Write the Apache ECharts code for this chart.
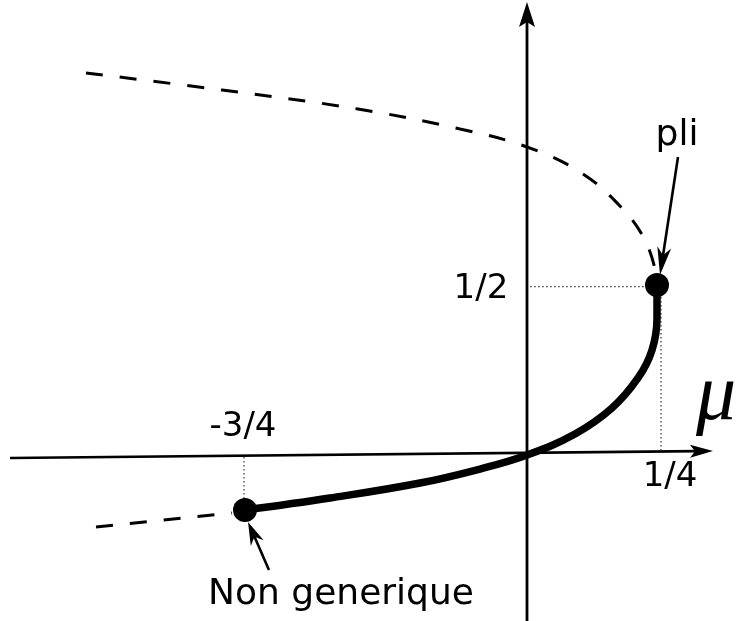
<!DOCTYPE html>
<html>
<head>
<meta charset="utf-8">
<script src="https://cdn.jsdelivr.net/npm/echarts@6/dist/echarts.min.js"></script>
<style>
  html, body { margin: 0; padding: 0; background: #fff; }
  #chart { width: 738px; height: 621px; }
</style>
</head>
<body>
<div id="chart"></div>
<script>
// Schematic fold (saddle-node) diagram in the (mu, x) plane.

// Stable branch (solid), from the non-generic point up to the fold
const stableBranch = [
  [-0.5423, -0.1618], [-0.3788, -0.1265], [-0.2058, -0.0824], [-0.0904, -0.0412],
  [0, 0], [0.0923, 0.0618], [0.1635, 0.1382], [0.2135, 0.2265],
  [0.2404, 0.3088], [0.2500, 0.4029], [0.2500, 0.5000]
];

// Unstable branch above (dashed), ending at the fold
const upperBranch = [
  [-0.8481, 1.1235], [-0.5865, 1.0735], [-0.3250, 1.0176], [-0.1288, 0.9588],
  [0, 0.9059], [0.1019, 0.8324], [0.1788, 0.7324], [0.2269, 0.6324],
  [0.2481, 0.5353]
];

// Continuation beyond the non-generic point (dashed)
const lowerBranch = [[-0.8288, -0.2118], [-0.5673, -0.1706]];

// Marked points: fold ("pli") and non-generic point
const specialPoints = [[0.25, 0.5], [-0.5423, -0.1618]];

// Dotted guide lines to the axes
const foldGuideH = [[0.006, 0.495], [0.232, 0.495]];
const foldGuideV = [[0.2577, 0.465], [0.2577, 0.012]];
const nonGenericGuide = [[-0.5442, -0.006], [-0.5442, -0.129]];

// Arrows: [x0, y0, x1, y1], the head sits at (x1, y1)
const arrows = [
  [-0.9942, -0.0088, 0.3577, 0.0118],   // mu axis
  [0, -0.4882, 0, 1.3324],              // x axis
  [0.2904, 0.8765, 0.2558, 0.5294],     // "pli" pointer
  [-0.4962, -0.3382, -0.5365, -0.1971]  // "Non generique" pointer
];

// Text annotations and tick labels
const tickLabels = ['1/2', '-3/4', '1/4'];
const tickLabelPos = [[-0.0885, 0.4882], [-0.5462, 0.0824], [0.275, -0.0647]];
const noteLabels = ['pli', 'Non generique'];
const noteLabelPos = [[0.2885, 0.9382], [-0.3577, -0.4118]];
const axisName = ['μ'];
const axisNamePos = [[0.3635, 0.1676]];

// Arrow head geometry in pixels: length, half width, notch depth, shaft width
const arrowHeads = [
  { len: 23, half: 6.5, notch: 18, width: 2.6 },
  { len: 25, half: 8, notch: 20, width: 2.8 },
  { len: 28, half: 7, notch: 20, width: 2.6 },
  { len: 23, half: 7, notch: 16, width: 2.6 }
];

const chart = echarts.init(document.getElementById('chart'), null, { renderer: 'canvas' });

function renderArrow(params, api) {
  const a = api.coord([api.value(0), api.value(1)]);
  const b = api.coord([api.value(2), api.value(3)]);
  const h = arrowHeads[params.dataIndex];
  const dx = b[0] - a[0], dy = b[1] - a[1];
  const L = Math.sqrt(dx * dx + dy * dy);
  const ux = dx / L, uy = dy / L;
  const px = -uy, py = ux;
  const back = [b[0] - ux * h.len, b[1] - uy * h.len];
  const notch = [b[0] - ux * h.notch, b[1] - uy * h.notch];
  return {
    type: 'group',
    children: [
      {
        type: 'line',
        shape: { x1: a[0], y1: a[1], x2: notch[0] + ux * 2, y2: notch[1] + uy * 2 },
        style: { stroke: '#000', lineWidth: h.width }
      },
      {
        type: 'polygon',
        shape: {
          points: [
            b,
            [back[0] + px * h.half, back[1] + py * h.half],
            notch,
            [back[0] - px * h.half, back[1] - py * h.half]
          ]
        },
        style: { fill: '#000' }
      }
    ]
  };
}

function textSeries(texts, positions, font) {
  return {
    type: 'custom',
    data: positions.map((p, i) => [p[0], p[1], i]),
    silent: true,
    z: 10,
    renderItem: function (params, api) {
      const c = api.coord([api.value(0), api.value(1)]);
      return {
        type: 'text',
        style: {
          text: texts[api.value(2)],
          x: c[0], y: c[1],
          fill: '#000',
          font: font,
          align: 'center',
          verticalAlign: 'middle'
        }
      };
    }
  };
}

const dotted = { color: '#333', width: 1.2, type: [1.5, 2.5] };

chart.setOption({
  animation: false,
  backgroundColor: '#fff',
  grid: { left: 0, right: 0, top: 0, bottom: 0 },
  xAxis: { type: 'value', min: -527 / 520, max: 211 / 520, show: false },
  yAxis: { type: 'value', min: -166 / 340, max: 455 / 340, show: false },
  series: [
    { type: 'line', data: foldGuideH, symbol: 'none', lineStyle: dotted, silent: true },
    { type: 'line', data: foldGuideV, symbol: 'none', lineStyle: dotted, silent: true },
    { type: 'line', data: nonGenericGuide, symbol: 'none', lineStyle: dotted, silent: true },
    {
      type: 'custom',
      data: arrows,
      encode: { x: [0, 2], y: [1, 3] },
      renderItem: renderArrow,
      silent: true,
      z: 3
    },
    {
      type: 'line', data: upperBranch, symbol: 'none', smooth: 0.4,
      lineStyle: { color: '#000', width: 3, type: [17, 17] }, z: 4
    },
    {
      type: 'line', data: lowerBranch, symbol: 'none',
      lineStyle: { color: '#000', width: 3, type: [17, 17] }, z: 4
    },
    {
      type: 'line', data: stableBranch, symbol: 'none', smooth: 0.4,
      lineStyle: { color: '#000', width: 7.5, cap: 'butt' }, z: 5
    },
    {
      type: 'scatter', data: specialPoints, symbol: 'circle', symbolSize: 24,
      itemStyle: { color: '#000', opacity: 1 }, z: 6
    },
    textSeries(tickLabels, tickLabelPos, '34px "DejaVu Sans"'),
    textSeries(noteLabels, noteLabelPos, '36px "DejaVu Sans"'),
    textSeries(axisName, axisNamePos, 'italic 80px "Liberation Serif"')
  ]
});
</script>
</body>
</html>
